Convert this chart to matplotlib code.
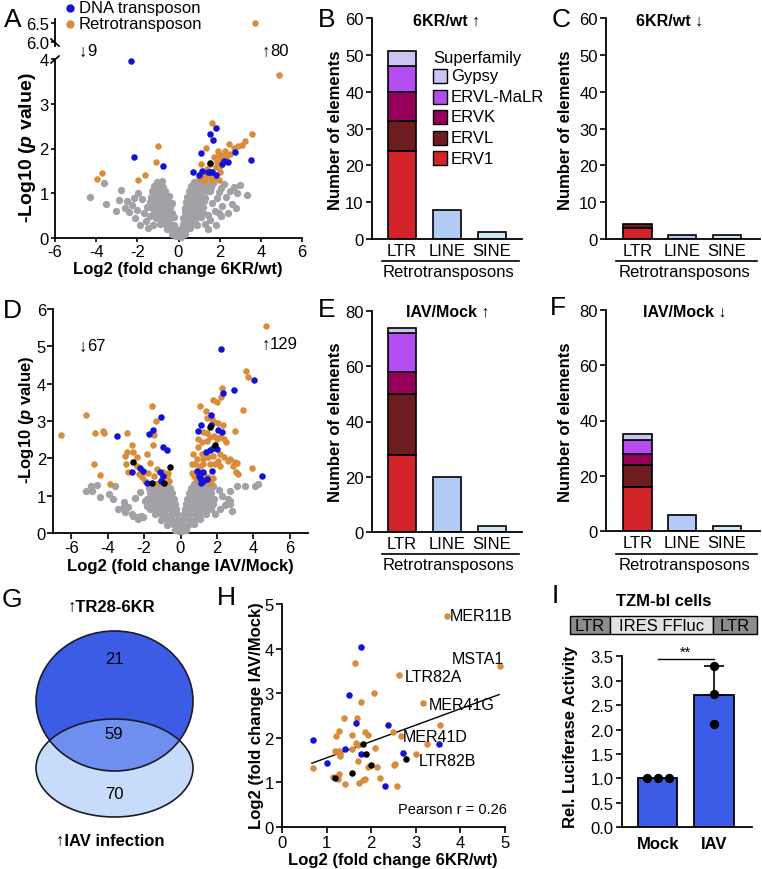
import numpy as np
import matplotlib
matplotlib.use("Agg")
import matplotlib.pyplot as plt
from matplotlib.patches import Rectangle, Ellipse

plt.rcParams['font.family'] = ['Liberation Sans', 'DejaVu Sans']
plt.rcParams['mathtext.fontset'] = 'custom'
plt.rcParams['mathtext.it'] = 'Liberation Sans:italic:bold'
plt.rcParams['mathtext.rm'] = 'Liberation Sans:bold'
plt.rcParams['axes.unicode_minus'] = False

# ---------------- DATA ----------------
# Panel A volcano (6KR/wt): (log2 FC, -log10 p)
a_gray = [(-0.12,0.04),(0.10,0.03),(-0.30,0.10),(-0.10,0.12),(0.10,0.11),(0.30,0.09),
          (-0.58,0.20),(-0.36,0.21),(-0.14,0.19),(0.14,0.21),(0.36,0.19),(0.58,0.22),
          (-0.88,0.32),(-0.66,0.31),(-0.44,0.33),(-0.22,0.30),(0.22,0.32),(0.44,0.31),(0.66,0.33),(0.88,0.30),
          (-1.08,0.44),(-0.86,0.45),(-0.64,0.43),(-0.42,0.44),(-0.20,0.46),(0.20,0.44),(0.42,0.45),(0.64,0.43),(0.86,0.44),(1.08,0.46),
          (-1.20,0.56),(-0.98,0.55),(-0.76,0.57),(-0.54,0.56),(-0.32,0.55),(0.30,0.57),(0.52,0.56),(0.74,0.55),(0.96,0.57),(1.18,0.56),
          (-1.28,0.68),(-1.06,0.69),(-0.84,0.67),(-0.62,0.68),(-0.40,0.69),(0.32,0.68),(0.54,0.67),(0.76,0.69),(0.98,0.68),(1.20,0.70),
          (-1.38,0.80),(-1.16,0.81),(-0.94,0.79),(-0.72,0.80),(-0.50,0.82),(-0.30,0.79),(0.36,0.80),(0.58,0.81),(0.80,0.79),(1.02,0.80),(1.24,0.82),
          (-1.36,0.92),(-1.14,0.93),(-0.92,0.91),(-0.70,0.92),(-0.48,0.94),(0.42,0.92),(0.64,0.91),(0.86,0.93),(1.08,0.92),(1.30,0.90),
          (-1.30,1.04),(-1.08,1.05),(-0.86,1.03),(-0.64,1.04),(0.50,1.04),(0.72,1.05),(0.94,1.03),(1.16,1.04),(1.38,1.06),
          (-1.20,1.16),(-0.98,1.17),(-0.76,1.15),(0.60,1.16),(0.82,1.17),(1.04,1.15),(1.26,1.16),(1.46,1.18),
          (-1.05,1.26),(-0.82,1.27),(0.75,1.26),(0.98,1.27),(1.20,1.25),
          (-1.60,0.38),(-1.85,0.30),(-1.50,0.22),(-1.25,0.30),(1.30,0.32),(1.55,0.40),(1.80,0.28),(1.45,0.20),
          (-2.10,0.45),(2.05,0.50),(-1.70,0.55),(1.75,0.60),(-1.55,0.70),(1.62,0.78),(-1.75,0.88),(1.85,0.90),
          (-1.40,0.50),(1.45,0.52),(1.55,1.05),(1.60,1.15),(1.70,1.22),
          (-4.30,0.92),(-3.60,1.22),(-3.50,0.76),(-3.05,0.60),(-2.80,1.08),(-2.60,0.66),(-2.40,0.58),
          (-2.25,0.74),(-2.00,0.62),(-2.50,0.82),(-1.95,1.00),(-2.15,0.90),(-2.90,0.85),(2.20,1.20),(2.30,0.92),(2.50,1.05),
          (2.60,0.76),(2.80,0.68),(2.85,1.00),(3.00,1.18),(2.40,0.56),(2.10,0.72),(1.95,1.02),(2.05,1.12),(3.35,0.95),
          (1.95,0.55),(2.70,1.15)]
a_retro = [(3.72,6.50),(4.90,3.64),(-1.00,2.06),(-1.07,1.69),(-1.65,1.41),(-1.96,1.30),(-3.95,1.32),(-3.70,1.45),
           (1.64,2.57),(1.36,2.02),(3.58,2.32),(3.25,2.17),(3.09,2.08),(2.88,2.05),(2.69,2.01),(2.52,1.88),(2.33,1.80),
           (2.12,1.84),(2.00,1.76),(1.88,1.69),(2.04,1.61),(1.80,1.58),(1.55,1.65),(1.39,1.54),(1.23,1.47),(1.15,1.35),
           (1.31,1.32),(1.64,1.47),(1.47,1.39),(1.10,1.65),(1.71,1.80),(1.96,1.88),(2.20,1.73),(1.80,1.35),(2.04,1.47),
           (1.36,1.43),(1.26,1.28),(1.90,1.95),(2.25,1.95),(2.45,2.10),(1.60,1.30),(1.95,1.30),(1.00,1.35)]
a_dna = [(-2.33,3.96),(-2.17,1.80),(-0.76,1.61),(1.80,2.46),(1.52,2.32),(1.67,2.19),(1.07,1.89),(2.73,1.93),(3.54,1.75),
         (0.71,1.47),(1.00,1.41),(1.15,1.50),(1.42,1.48),(1.55,1.47),(1.80,1.41),(2.09,1.65),(2.23,1.73),(2.39,1.70),(1.65,1.48)]
a_other = [(1.55,1.67)]
a_counts = [9, 80]

# Panel D volcano (IAV/Mock)
d_gray = [(-0.10,0.06),(0.10,0.05),(-0.30,0.09),(0.30,0.08),
          (-0.72,0.22),(-0.42,0.23),(-0.12,0.21),(0.12,0.22),(0.42,0.21),(0.72,0.23),
          (-1.05,0.36),(-0.75,0.37),(-0.45,0.35),(-0.15,0.36),(0.15,0.37),(0.45,0.35),(0.75,0.36),(1.05,0.37),
          (-1.38,0.50),(-1.08,0.51),(-0.78,0.49),(-0.48,0.50),(-0.18,0.52),(0.18,0.50),(0.48,0.51),(0.78,0.49),(1.08,0.50),(1.38,0.52),
          (-1.66,0.64),(-1.42,0.65),(-1.12,0.63),(-0.82,0.64),(-0.52,0.65),(-0.22,0.63),(0.22,0.64),(0.52,0.65),(0.82,0.63),(1.12,0.64),(1.42,0.66),(1.66,0.64),
          (-1.78,0.78),(-1.50,0.79),(-1.20,0.77),(-0.90,0.78),(-0.60,0.79),(-0.30,0.77),(0.30,0.78),(0.60,0.79),(0.90,0.77),(1.20,0.78),(1.50,0.80),(1.78,0.78),
          (-1.85,0.92),(-1.58,0.93),(-1.28,0.91),(-0.98,0.92),(-0.68,0.93),(-0.38,0.91),(0.38,0.92),(0.68,0.93),(0.98,0.91),(1.28,0.92),(1.58,0.94),(1.85,0.92),
          (-1.66,1.06),(-1.36,1.07),(-1.06,1.05),(-0.76,1.06),(-0.46,1.07),(0.46,1.06),(0.76,1.07),(1.06,1.05),(1.36,1.06),(1.66,1.08),
          (-1.75,1.20),(-1.48,1.21),(-1.18,1.19),(-0.88,1.20),(-0.58,1.21),(0.58,1.20),(0.88,1.21),(1.18,1.19),(1.48,1.20),(1.75,1.22),
          (-1.32,1.30),(-1.02,1.31),(-0.72,1.29),(0.72,1.30),(1.02,1.31),(1.32,1.29),
          (-5.19,1.12),(-4.92,1.27),(-4.42,0.96),(-3.69,0.91),(-3.42,0.64),(-3.05,0.55),(-2.68,0.51),(-2.41,0.42),
          (-2.04,0.42),(-2.87,0.69),(-1.86,0.73),(-4.57,1.29),(-4.88,1.12),(-3.91,1.05),(-3.14,0.66),(-2.59,0.46),
          (-2.19,0.45),(-1.95,0.87),(-3.10,0.84),(-2.32,0.38),(-3.60,1.25),(-2.20,1.10),(-2.50,0.95),
          (1.80,1.27),(2.72,0.87),(2.63,0.91),(2.72,0.78),(2.72,1.13),(2.17,0.64),(1.90,0.51),(3.54,1.27),(4.09,1.27),
          (4.28,1.31),(2.30,1.00),(2.45,0.75),(2.10,1.15),(3.10,1.25),(2.85,0.60)]
d_retro = [(-6.58,2.63),(-5.19,3.17),(-4.70,2.68),(-4.24,2.72),(-4.20,2.68),(-4.74,1.85),(-4.42,1.55),(-3.87,1.31),
           (-2.96,2.68),(-2.96,2.18),(-2.68,2.36),(-3.05,2.07),(-2.99,1.85),(-2.63,2.16),(-2.87,1.64),(-2.41,2.03),
           (-2.26,1.58),(-2.41,1.80),(-1.58,3.40),(-1.36,3.01),(-1.46,2.63),(-1.49,2.37),(-1.86,2.12),(-1.68,1.88),
           (-1.31,1.72),(-1.77,1.61),(-1.46,1.52),(-1.03,1.47),(-0.76,1.54),(-0.62,1.40),(-0.94,1.64),(-2.13,1.61),
           (-2.10,1.50),(-1.20,1.35),(-0.70,1.62),(-1.95,1.38),
           (4.70,5.54),(3.60,4.35),(3.69,4.19),(2.30,3.88),(1.80,3.57),(1.99,3.52),(2.23,3.64),(1.07,3.41),(3.42,3.30),
           (1.40,3.28),(1.47,3.07),(1.71,3.06),(1.84,2.97),(2.04,2.94),(2.32,2.88),(1.25,2.70),(1.44,2.68),(2.99,2.72),
           (0.98,2.52),(1.16,2.43),(1.44,2.47),(1.62,2.57),(1.84,2.61),(1.99,2.52),(2.17,2.57),(2.39,2.52),(2.50,2.45),
           (0.98,2.30),(1.16,2.12),(0.70,2.12),(0.89,1.98),(1.25,1.98),(1.53,2.03),(1.80,2.07),(2.17,2.12),(2.39,2.03),
           (2.08,1.94),(1.90,1.85),(1.62,1.85),(1.25,1.85),(1.07,1.80),(0.80,1.85),(0.62,1.85),(2.17,1.80),(2.59,1.93),
           (2.72,1.98),(2.99,1.91),(2.90,1.80),(3.12,1.88),(3.05,1.64),(3.18,1.58),(3.95,1.73),(0.62,1.62),(0.74,1.54),
           (0.85,1.45),(1.35,1.54),(1.53,1.50),(1.62,1.40),(1.77,1.47),(1.47,1.37),(1.66,1.34)]
d_dna = [(2.21,4.93),(4.04,4.11),(2.35,3.75),(2.96,3.82),(1.66,3.16),(1.13,2.88),(1.66,2.90),(2.08,2.77),(0.94,2.72),
         (2.26,2.70),(1.40,2.18),(1.62,2.21),(1.80,2.27),(1.99,2.25),(0.89,1.65),(1.07,1.61),(1.25,1.64),(1.71,1.65),
         (1.07,1.47),(1.25,1.40),(1.47,1.45),(1.13,1.34),(1.02,1.54),(4.46,1.54),
         (-3.51,2.59),(-1.71,2.65),(-1.53,2.76),(-1.09,3.10),(-0.94,2.30),(-0.76,2.23),(-2.23,1.73),(-2.04,1.67),
         (-2.68,1.64),(-1.86,1.34),(-1.13,1.64),(-0.94,1.52),(-1.09,1.40)]
d_other = [(-2.63,1.89),(-0.58,1.78),(-1.58,1.34),(-0.89,1.34),(1.62,2.83),(1.90,2.36)]
d_counts = [67, 129]

# Bar panels: retrotransposon counts
superfamilies = ['ERV1', 'ERVL', 'ERVK', 'ERVL-MaLR', 'Gypsy']
classes = ['LTR', 'LINE', 'SINE']
b_ltr = [24, 8, 8, 7, 4]; b_line = 8; b_sine = 2     # 6KR/wt up
c_ltr = [3, 1, 0, 0, 0];  c_line = 1; c_sine = 1     # 6KR/wt down
e_ltr = [28, 22, 8, 14, 2]; e_line = 20; e_sine = 2  # IAV/Mock up
f_ltr = [16, 8, 4, 5, 2]; f_line = 6; f_sine = 2     # IAV/Mock down

# Venn
venn_counts = [21, 59, 70]
venn_sets = ["TR28-6KR", "IAV infection"]

# Panel H correlation
h_retro = [(3.69,4.74),(4.89,3.60),(2.62,3.41),(3.17,2.79),(2.67,2.03),(3.00,1.64),(1.63,3.68),(2.06,3.00),(1.77,2.81),
           (1.39,2.44),(1.68,2.44),(3.54,2.28),(1.27,2.15),(1.87,2.14),(1.92,2.07),(1.22,2.05),(1.58,2.07),(2.48,2.14),
           (3.24,1.87),(1.67,1.88),(1.71,1.83),(2.08,1.77),(1.18,1.71),(1.27,1.71),(1.31,1.64),(1.30,1.59),(1.57,1.75),
           (1.70,1.49),(2.12,1.34),(1.93,1.34),(0.69,1.33),(2.54,1.42),(2.50,1.38),(1.27,1.19),(1.15,1.13),(1.25,1.07),
           (2.19,1.10),(1.82,1.06),(1.86,1.08),(1.41,0.96),(1.72,0.99),(2.57,0.91)]
h_dna = [(1.78,4.04),(1.51,2.96),(1.65,2.34),(2.37,2.28),(0.69,1.96),(1.42,1.75),(1.78,1.63),(1.00,1.43),(2.72,1.66),
         (3.51,1.87),(2.31,0.92)]
h_other = [(1.81,1.85),(1.89,1.63),(1.99,1.40),(1.58,1.22),(2.78,1.52),(1.18,1.10)]
h_names = ['MER11B', 'MSTA1', 'LTR82A', 'MER41G', 'MER41D', 'LTR82B']
h_fit_x = [0.67, 4.87]
h_fit_y = [1.43, 2.97]
h_pearson = 0.26

# Panel I luciferase
i_groups = ['Mock', 'IAV']
i_mock = [1.0, 1.0, 1.0]
i_iav = [3.30, 2.72, 2.11]

# ---------------- STYLE ----------------
C_BLUE = '#1212d8'
C_ORANGE = '#d98c3a'
C_GRAY = '#a2a2a6'
SF_COLORS = ['#d2232a', '#6e1c1e', '#96005a', '#b44cf2', '#cdc4f2']
C_LINE = '#b3cbf7'
C_SINE = '#cfe6f5'
FS = 12
FL = 12
FP = 19
W, H = 762, 870
UP, DOWN = '\u2191', '\u2193'

fig = plt.figure(figsize=(W/100, H/100), dpi=100)
ov = fig.add_axes([0, 0, 1, 1])
ov.set_xlim(0, W); ov.set_ylim(H, 0); ov.axis('off'); ov.set_zorder(5)


def mk(box, tl=4, pad=2):
    l, t, r, b = box
    ax = fig.add_axes([l/W, 1-b/H, (r-l)/W, (b-t)/H])
    for s in ('top', 'right'):
        ax.spines[s].set_visible(False)
    for s in ('left', 'bottom'):
        ax.spines[s].set_linewidth(1.3)
    ax.tick_params(labelsize=FS, length=tl, width=1.2, pad=pad)
    ax.patch.set_alpha(0)
    return ax


def xlab(ax, box, s, xc, yc, fs=FL):
    l, t, r, b = box
    ax.set_xlabel(s, fontsize=fs, fontweight='bold')
    ax.xaxis.set_label_coords((xc-l)/(r-l), (b-yc)/(b-t))
    ax.xaxis.label.set_va('center')


def ylab(ax, box, s, xc, yc, fs=FL):
    l, t, r, b = box
    ax.set_ylabel(s, fontsize=fs, fontweight='bold')
    ax.yaxis.set_label_coords((xc-l)/(r-l), (b-yc)/(b-t))
    ax.yaxis.label.set_va('center')


def scat(ax, pts, color, s=22):
    p = np.asarray(pts, float)
    if len(p):
        ax.scatter(p[:, 0], p[:, 1], s=s, c=color, linewidths=0, zorder=3, clip_on=False)


def letter(x, y, s):
    ov.text(x, y, s, fontsize=FP, va='baseline', ha='left')


def count_text(x, y, arrow, n):
    ov.text(x, y, arrow, fontsize=FS, fontweight='bold', va='center', ha='left')
    ov.text(x + 8, y, str(n), fontsize=FS, va='center', ha='left')


# ---------------- PANEL A ----------------
boxA = (55, 60, 302, 239)
boxA2 = (55, 20, 302, 47)
axA = mk(boxA, tl=3, pad=1.5)
axA2 = mk(boxA2, tl=3, pad=1.5)
axA.set_xlim(-6, 6); axA.set_ylim(0, 4)
axA.set_xticks(range(-6, 7, 2)); axA.set_yticks(range(0, 5))
axA2.set_xlim(-6, 6); axA2.set_ylim(5.895, 6.605)
axA2.spines['bottom'].set_visible(False); axA2.set_xticks([])
axA2.set_yticks([6.0, 6.5]); axA2.set_yticklabels(['6.0', '6.5'])
for pts, col, sz in ((a_gray, C_GRAY, 28), (a_retro, C_ORANGE, 22), (a_dna, C_BLUE, 22), (a_other, 'black', 22)):
    p = np.asarray(pts, float)
    scat(axA, p[p[:, 1] <= 4.2], col, sz)
    scat(axA2, p[p[:, 1] > 4.2], col, sz)
xlab(axA, boxA, 'Log2 (fold change 6KR/wt)', 178, 270)
ylab(axA, boxA, r'-Log10 ($p$ value)', 28, 148, fs=14)
ov.plot([51, 59], [40, 47], color='black', lw=1.2)
ov.plot([51, 59], [64, 57], color='black', lw=1.2)
count_text(79, 52, DOWN, a_counts[0])
count_text(262, 52, UP, a_counts[1])
ov.plot([70], [9], 'o', ms=5, color=C_BLUE)
ov.plot([70], [25], 'o', ms=5, color=C_ORANGE)
ov.text(79, 9, 'DNA transposon', fontsize=FL, va='center')
ov.text(79, 25, 'Retrotransposon', fontsize=FL, va='center')
letter(4, 27, 'A')


# ---------------- BAR PANELS ----------------
def bar_panel(box, ltr, line, sine, ymax, step, xl, title, title_x, title_y,
              ylab_x, ylab_y, sub_y):
    ax = mk(box, tl=4, pad=2)
    x = np.arange(3)
    bottom = 0
    for val, col in zip(ltr, SF_COLORS):
        if val > 0:
            ax.bar(x[0], val, 0.64, bottom=bottom, color=col, edgecolor='black', linewidth=1.2, zorder=2)
        bottom += val
    ax.bar(x[1], line, 0.64, color=C_LINE, edgecolor='black', linewidth=1.2, zorder=2)
    ax.bar(x[2], sine, 0.64, color=C_SINE, edgecolor='black', linewidth=1.2, zorder=2)
    ax.set_ylim(0, ymax); ax.set_xlim(*xl)
    ax.set_yticks(np.arange(0, ymax + 1, step))
    ax.set_xticks(x); ax.set_xticklabels(classes)
    ax.tick_params(axis='x', length=0, pad=3)
    ylab(ax, box, 'Number of elements', ylab_x, ylab_y)
    ov.text(title_x, title_y, title, fontsize=FS - 0.5, fontweight='bold', ha='center', va='center')
    l, t, r, b = box
    ov.plot([l + 10, r - 3], [sub_y, sub_y], color='black', lw=1.2)
    ov.text((l + r) / 2 + 2, sub_y + 11, 'Retrotransposons', fontsize=FS, ha='center', va='center')
    return ax


axB = bar_panel((372, 19.3, 522, 240), b_ltr, b_line, b_sine, 60, 10, (-0.667, 2.667),
                '6KR/wt ' + UP, 447, 21, 336, 130, 262)
axC = bar_panel((606, 19.3, 760, 240), c_ltr, c_line, c_sine, 60, 10, (-0.70, 2.74),
                '6KR/wt ' + DOWN, 670, 21, 566, 130, 262)
axE = bar_panel((372, 312, 522, 533), e_ltr, e_line, e_sine, 80, 20, (-0.667, 2.667),
                'IAV/Mock ' + UP, 448, 312, 336, 422, 555)
axF = bar_panel((606, 310.7, 760, 532.3), f_ltr, f_line, f_sine, 80, 20, (-0.70, 2.74),
                'IAV/Mock ' + DOWN, 685, 312, 566, 422, 555)
letter(318, 27, 'B'); letter(552, 27, 'C'); letter(318, 317, 'E'); letter(550, 315, 'F')

# legend for superfamilies
ov.text(433, 59, 'Superfamily', fontsize=FS, va='center', ha='left')
for i, (name, col) in enumerate(zip(superfamilies[::-1], SF_COLORS[::-1])):
    yc = 77 + i * 20.5
    ov.add_patch(Rectangle((433, yc - 7), 14, 14, facecolor=col, edgecolor='black', lw=1.0))
    ov.text(451, yc, name, fontsize=FS, va='center', ha='left')

# ---------------- PANEL D ----------------
boxD = (53, 310, 308, 534)
axD = mk(boxD, tl=4, pad=1)
axD.set_xlim(-7, 7); axD.set_ylim(0, 6)
axD.set_xticks(range(-6, 7, 2)); axD.set_yticks(range(0, 7))
for pts, col, sz in ((d_gray, C_GRAY, 28), (d_retro, C_ORANGE, 22), (d_dna, C_BLUE, 22), (d_other, 'black', 22)):
    scat(axD, pts, col, sz)
xlab(axD, boxD, 'Log2 (fold change IAV/Mock)', 180, 566)
ylab(axD, boxD, r'-Log10 ($p$ value)', 27, 420)
count_text(79, 347, DOWN, d_counts[0])
count_text(262, 345, UP, d_counts[1])
letter(3, 318, 'D')

# ---------------- PANEL G (Venn) ----------------
e_bot = Ellipse((114.5, 769), 157, 98, facecolor='#c6dcfa', edgecolor='none')
e_top = Ellipse((114.5, 702), 157, 140, facecolor='#3c5ce6', edgecolor='none')
ov.add_patch(e_bot); ov.add_patch(e_top)
lens = Ellipse((114.5, 769), 157, 98, facecolor='#6e8ff0', edgecolor='none')
ov.add_patch(lens); lens.set_clip_path(e_top)
ov.add_patch(Ellipse((114.5, 702), 157, 140, facecolor='none', edgecolor='#1a1a2a', lw=1.2))
ov.add_patch(Ellipse((114.5, 769), 157, 98, facecolor='none', edgecolor='#1a1a2a', lw=1.2))
ov.text(114, 660, str(venn_counts[0]), fontsize=FL, ha='center', va='center')
ov.text(114, 735, str(venn_counts[1]), fontsize=FL, ha='center', va='center')
ov.text(114, 795, str(venn_counts[2]), fontsize=FL, ha='center', va='center')
ov.text(112, 607, UP + venn_sets[0], fontsize=FL, fontweight='bold', ha='center', va='center')
ov.text(110, 841, UP + venn_sets[1], fontsize=FL, fontweight='bold', ha='center', va='center')
letter(2, 607, 'G')

# ---------------- PANEL H ----------------
boxH = (282, 605, 505, 828)
axH = mk(boxH, tl=4, pad=2)
axH.set_xlim(0, 5); axH.set_ylim(0, 5)
axH.set_xticks(range(0, 6)); axH.set_yticks(range(0, 6))
scat(axH, h_retro, C_ORANGE); scat(axH, h_dna, C_BLUE); scat(axH, h_other, 'black')
axH.plot(h_fit_x, h_fit_y, color='black', lw=1.0, zorder=2)
h_offsets = [(3, 0, 'left'), (4, 8, 'right'), (6, -2, 'left'),
             (5, -2, 'left'), (2, 0, 'left'), (3, -7, 'left')]
hp = np.asarray(h_retro, float)
for i, name in enumerate(h_names):
    dx, dy, ha = h_offsets[i]
    axH.annotate(name, xy=(hp[i, 0], hp[i, 1]), xytext=(dx * 0.72, dy * 0.72), textcoords='offset points',
                 fontsize=FS - 0.5, ha=ha, va='center')
axH.text(1.01, 0.08, f'Pearson r = {h_pearson}', transform=axH.transAxes, fontsize=FS - 1.5, ha='right', va='center')
xlab(axH, boxH, 'Log2 (fold change 6KR/wt)', 393, 861)
ylab(axH, boxH, 'Log2 (fold change IAV/Mock)', 256, 716)
letter(217, 605, 'H')

# ---------------- PANEL I ----------------
boxI = (622, 657.3, 752, 828.3)
axI = mk(boxI, tl=4, pad=2)
vals = [i_mock, i_iav]
means = [np.mean(v) for v in vals]
sds = [np.std(v, ddof=1) for v in vals]
xi = np.arange(2)
axI.bar(xi, means, 0.7, color='#3a5ce6', edgecolor='black', linewidth=1.3, zorder=2)
axI.errorbar(xi[1], means[1], yerr=[[0], [sds[1]]], color='black', capsize=7, lw=1.2, capthick=1.2, zorder=3)
scat(axI, list(zip(xi[0] + np.array([-0.2, 0.0, 0.2]), i_mock)), 'black', s=45)
scat(axI, list(zip(np.full(3, xi[1]), i_iav)), 'black', s=45)
axI.set_ylim(0, 3.5); axI.set_xlim(-0.64, 1.68)
axI.set_yticks(np.arange(0, 3.51, 0.5)); axI.set_yticklabels([f'{v:.1f}' for v in np.arange(0, 3.51, 0.5)])
axI.set_xticks(xi); axI.set_xticklabels(i_groups, fontweight='bold', fontsize=FL)
axI.tick_params(axis='x', length=0, pad=6)
axI.plot([0, 1], [3.44, 3.44], color='black', lw=1.0, clip_on=False)
axI.text(0.5, 3.45, '**', ha='center', va='bottom', fontsize=FS - 1.5)
ylab(axI, boxI, 'Rel. Luciferase Activity', 570, 737)
ov.text(664, 602, 'TZM-bl cells', fontsize=FS, fontweight='bold', ha='center', va='center')
for (x0, x1, col, s) in ((570, 610, '#8c8c8c', 'LTR'), (610, 713, '#e2e2e2', 'IRES FFluc'), (713, 757, '#8c8c8c', 'LTR')):
    ov.add_patch(Rectangle((x0, 617), x1 - x0, 18, facecolor=col, edgecolor='black', lw=1.0))
    ov.text((x0 + x1) / 2, 626.5, s, fontsize=FS, ha='center', va='center')
letter(552, 603, 'I')

fig.savefig('out.png', dpi=100)
